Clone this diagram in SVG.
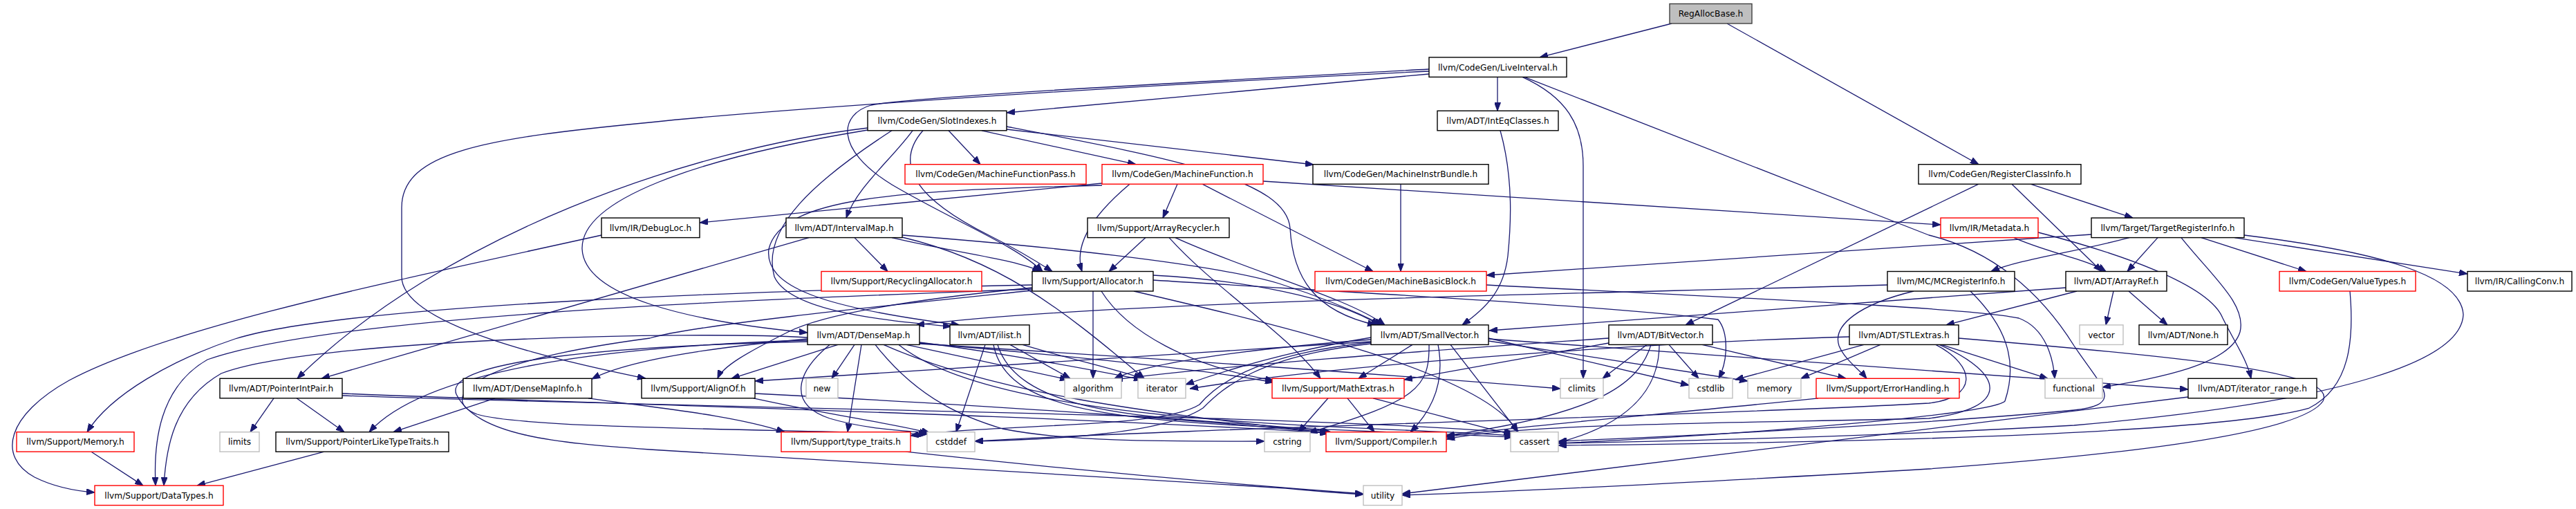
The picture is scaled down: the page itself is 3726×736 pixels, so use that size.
<svg xmlns="http://www.w3.org/2000/svg" width="3726" height="736" viewBox="0 0 3726 736">
<defs>
<marker id="arr" viewBox="0 0 12 9" refX="12" refY="4.5" markerWidth="12" markerHeight="9" markerUnits="userSpaceOnUse" orient="auto"><path d="M0,0 L12,4.5 L0,9 Z" fill="#191970" stroke="#191970" stroke-width="1"/></marker>
</defs>
<style>
.e{fill:none;stroke:#191970;stroke-width:1.3;marker-end:url(#arr)}
.n rect{fill:#ffffff;stroke:#000000;stroke-width:1.4}
.r rect{fill:#ffffff;stroke:#ff0000;stroke-width:1.4}
.g rect{fill:#ffffff;stroke:#bfbfbf;stroke-width:1.4}
.root rect{fill:#bfbfbf;stroke:#404040;stroke-width:1.4}
text{font-family:"DejaVu Sans","Liberation Sans",sans-serif;font-size:12.2px;text-anchor:middle;fill:#000000}
</style>
<rect x="0" y="0" width="3726" height="736" fill="#ffffff"/>
<g id="edges">
<path class="e" d="M2418,34 L2227,82.9"/>
<path class="e" d="M2498,34 L2862,237.7"/>
<path class="e" d="M2067,107 L1456,163"/>
<path class="e" d="M2067,100 C1700,120 1320,140 1260,152 C1215,165 1205,215 1290,267 C1380,320 1470,355 1508,392.5"/>
<path class="e" d="M2067,103 C1600,125 1100,160 940,177 C700,200 581,220 581,300 L581,400 C581,470 800,520 934,547.3"/>
<path class="e" d="M2166,111.4 L2166,160.3"/>
<path class="e" d="M2202,111.4 C2265,140 2290,180 2290,240 L2290,547.3"/>
<path class="e" d="M2205,111.4 L2790,340 C2880,362 2950,420 3000,500 C3040,560 3075,585 3000,593 C2800,612 2450,630 2254,638"/>
<path class="e" d="M1255,185 C1000,215 640,340 430,547.3"/>
<path class="e" d="M1255,188 C1000,230 840,290 842,360 C845,430 1000,465 1168,481"/>
<path class="e" d="M1320,188.8 C1290,230 1240,270 1224,315.1"/>
<path class="e" d="M1290,188.8 C1180,260 1100,330 1120,400 C1140,445 1250,462 1376,472"/>
<path class="e" d="M1335,188.8 C1290,240 1330,290 1430,340 C1470,360 1495,375 1522,392.5"/>
<path class="e" d="M1372,188.8 L1418,237.7"/>
<path class="e" d="M1420,188.8 L1643,237.7"/>
<path class="e" d="M1456,187 L1900,238"/>
<path class="e" d="M1456,183 C1700,230 1860,260 1866,330 C1870,400 1900,450 1990,469.9"/>
<path class="e" d="M2170,188.8 C2190,260 2185,330 2181,370 C2175,420 2150,445 2115,469.9"/>
<path class="e" d="M1594,265 L1012,322"/>
<path class="e" d="M1594,268 C1300,275 1130,285 1112,360 C1105,415 1190,445 1388,470"/>
<path class="e" d="M1634,266.2 C1570,320 1555,360 1565,392.5"/>
<path class="e" d="M1703,266.2 L1682,315.1"/>
<path class="e" d="M1739,266.2 L1986,392.5"/>
<path class="e" d="M1827,262 L2807,325"/>
<path class="e" d="M2026,266.2 L2026,392.5"/>
<path class="e" d="M2862,266.2 L2438,469.9"/>
<path class="e" d="M2910,266.2 L3040,392.5"/>
<path class="e" d="M2937,266.2 L3085,315.1"/>
<path class="e" d="M870,340 C600,400 250,470 100,550 C10,600 -5,660 50,690 C80,705 110,710 137,712"/>
<path class="e" d="M1170,343.6 L465,547.3"/>
<path class="e" d="M1236,343.6 L1284,392.5"/>
<path class="e" d="M1290,343.6 C1380,365 1470,375 1505,392.5"/>
<path class="e" d="M1305,340 C1500,355 1750,380 1850,410 C1920,432 1970,455 2000,469.9"/>
<path class="e" d="M1305,343 C1440,375 1530,440 1655,547.3"/>
<path class="e" d="M1657,343.6 L1604,392.5"/>
<path class="e" d="M1691,343.6 C1760,420 1860,480 1910,547.3"/>
<path class="e" d="M1700,343.6 C1800,390 1950,430 2003,469.9"/>
<path class="e" d="M2913,343.6 C2960,365 3020,375 3046,392.5"/>
<path class="e" d="M2948,336 C3060,365 3195,410 3215,460 C3235,500 3250,520 3256,547.3"/>
<path class="e" d="M3025,339 L2150,398"/>
<path class="e" d="M3080,343.6 C3000,365 2920,375 2880,392.5"/>
<path class="e" d="M3121,343.6 L3077,392.5"/>
<path class="e" d="M3155,343.6 C3200,400 3250,440 3240,480 C3225,530 3110,548 3041,560"/>
<path class="e" d="M3184,343.6 L3336,392.5"/>
<path class="e" d="M3232,343.6 L3569,396"/>
<path class="e" d="M3246,340 C3450,365 3560,400 3563,455 C3560,520 3400,580 3000,615 C2700,632 2400,638 2254,641"/>
<path class="e" d="M1668,398 C1800,405 1930,430 1995,469.9"/>
<path class="e" d="M1493,416 C1350,430 1200,450 1140,480 C1080,510 1045,530 1038,547.3"/>
<path class="e" d="M1493,418 C1200,430 500,450 300,520 C230,560 222,640 225,702.1"/>
<path class="e" d="M1493,412 C1100,420 500,440 340,490 C250,520 160,570 126,624.7"/>
<path class="e" d="M1581,421 L1581,547.3"/>
<path class="e" d="M1593,421 C1630,480 1720,530 1842,550"/>
<path class="e" d="M1640,421 C1850,470 2150,540 2195,624.7"/>
<path class="e" d="M1493,420 C1300,440 1000,470 940,489 C660,526 640,580 690,599 C760,620 1100,620 1341,628"/>
<path class="e" d="M1668,405 C1900,420 2300,440 2485,462 C2500,480 2500,520 2486,547.3"/>
<path class="e" d="M2150,412 C2500,430 2850,445 2920,460 C2960,475 2970,520 2972,547.3"/>
<path class="e" d="M2730,412 C2300,425 1600,435 1325,470"/>
<path class="e" d="M2768,421 C2690,440 2650,470 2660,500 C2668,520 2690,535 2700,547.3"/>
<path class="e" d="M2850,421 C2900,470 2920,520 2900,580 C2880,600 2500,630 2254,641"/>
<path class="e" d="M2988,416 L2154,478"/>
<path class="e" d="M3004,421 L2815,469.9"/>
<path class="e" d="M3057,421 L3046,469.9"/>
<path class="e" d="M3079,421 L3135,469.9"/>
<path class="e" d="M3399,421 C3405,490 3400,560 3340,590 C3200,630 2600,641 2254,644"/>
<path class="e" d="M1168,490 C1000,505 900,525 856,548"/>
<path class="e" d="M1212,498.4 L1058,547.3"/>
<path class="e" d="M1236,498.4 L1203,547.3"/>
<path class="e" d="M1246,498.4 L1226,624.7"/>
<path class="e" d="M1200,498.4 C1150,540 1140,585 1200,605 C1250,620 1300,622 1343,626"/>
<path class="e" d="M1266,498.4 C1330,580 1400,605 1450,620 C1550,640 1700,638 1829,638"/>
<path class="e" d="M1278,498.4 C1450,575 1700,600 1921,626"/>
<path class="e" d="M1311,498.4 L1545,549"/>
<path class="e" d="M1330,495 C1450,510 1580,535 1652,549"/>
<path class="e" d="M1330,496 C1550,515 1750,535 1842,553"/>
<path class="e" d="M1330,497 C1700,520 2050,545 2257,562"/>
<path class="e" d="M1300,498.4 C1450,620 2000,615 2188,630"/>
<path class="e" d="M1168,492 C900,500 620,530 534,624.7"/>
<path class="e" d="M1168,488 C1000,478 450,490 320,540 C250,580 240,650 237,702.1"/>
<path class="e" d="M1168,494 C900,500 640,520 660,570 C690,630 800,640 940,650 L1860,706 C1900,710 1940,713 1972,715"/>
<path class="e" d="M1425,498.4 L1383,624.7"/>
<path class="e" d="M1437,498.4 C1460,620 1700,610 2188,632"/>
<path class="e" d="M1443,498.4 C1480,620 1750,600 1925,624.7"/>
<path class="e" d="M1461,498.4 L1548,547.3"/>
<path class="e" d="M1479,498.4 C1550,520 1620,535 1652,547.3"/>
<path class="e" d="M1983,494 L1092,551"/>
<path class="e" d="M1983,488 C1850,510 1760,540 1715,556"/>
<path class="e" d="M1983,491 C1800,505 1660,525 1612,547.3"/>
<path class="e" d="M2043,498.4 L1965,547.3"/>
<path class="e" d="M2067,498.4 C2068,560 2050,580 1893,625.5"/>
<path class="e" d="M2080,498.4 C2092,560 2065,600 2040,624.7"/>
<path class="e" d="M2098,498.4 L2196,624.7"/>
<path class="e" d="M2153,489 L2443,557"/>
<path class="e" d="M2153,493 L2528,551"/>
<path class="e" d="M1983,495 C1820,512 1760,555 1735,585 C1680,620 1450,612 1317,630"/>
<path class="e" d="M1983,497 C1820,515 1770,560 1740,590 C1680,630 1500,636 1410,638"/>
<path class="e" d="M2153,490 L3165,563"/>
<path class="e" d="M2327,489 C2100,505 1800,525 1612,549"/>
<path class="e" d="M2327,496 L2031,549"/>
<path class="e" d="M2382,498.4 L2318,547.3"/>
<path class="e" d="M2388,498.4 C2370,560 2300,600 2092,630"/>
<path class="e" d="M2400,498.4 C2400,580 2330,620 2254,640"/>
<path class="e" d="M2414,498.4 L2457,547.3"/>
<path class="e" d="M2462,498.4 L2670,547.3"/>
<path class="e" d="M2696,498.4 L2510,549"/>
<path class="e" d="M2720,498.4 L2605,547.3"/>
<path class="e" d="M2808,498.4 L2962,547.3"/>
<path class="e" d="M2675,487 C2400,495 1950,525 1721,562"/>
<path class="e" d="M2800,498.4 C2860,530 2860,575 2790,583 C2500,600 1700,620 1410,638"/>
<path class="e" d="M2805,498.4 C2900,540 2910,590 2790,605 C2500,612 2200,612 2092,635"/>
<path class="e" d="M2833,489 C3200,520 3380,540 3360,580 C3320,640 2900,670 2790,678 C2500,695 2200,710 2028,716"/>
<path class="e" d="M396,575.8 L362,624.7"/>
<path class="e" d="M429,575.8 L498,624.7"/>
<path class="e" d="M495,569 C900,585 1500,600 1922,626"/>
<path class="e" d="M495,572 C1000,590 1900,600 2190,626"/>
<path class="e" d="M716,575.8 L569,624.7"/>
<path class="e" d="M851,575.8 C950,590 1060,600 1135,624.7"/>
<path class="e" d="M1092,569 C1500,590 1800,612 1921,627"/>
<path class="e" d="M1090,575.8 C1200,600 1290,612 1345,626"/>
<path class="e" d="M1921,575.8 L1878,624.7"/>
<path class="e" d="M1949,575.8 L1988,624.7"/>
<path class="e" d="M1986,575.8 C2080,600 2150,620 2187,628"/>
<path class="e" d="M2630,575.8 C2400,600 2200,615 2092,632"/>
<path class="e" d="M3165,574 L2028,714"/>
<path class="e" d="M469,653.2 L285,702.1"/>
<path class="e" d="M132,653.2 L207,702.1"/>
<path class="e" d="M1310,653.2 C1600,685 1850,705 1972,714"/>
</g>
<g id="node-RegAllocBase" class="root"><rect x="2415" y="5.5" width="119" height="28.5"/><text x="2474.5" y="24.1">RegAllocBase.h</text></g>
<g id="node-LiveInterval" class="n"><rect x="2067" y="82.9" width="199" height="28.5"/><text x="2166.5" y="101.5">llvm/CodeGen/LiveInterval.h</text></g>
<g id="node-SlotIndexes" class="n"><rect x="1255" y="160.3" width="201" height="28.5"/><text x="1355.5" y="178.9">llvm/CodeGen/SlotIndexes.h</text></g>
<g id="node-IntEqClasses" class="n"><rect x="2079" y="160.3" width="175" height="28.5"/><text x="2166.5" y="178.9">llvm/ADT/IntEqClasses.h</text></g>
<g id="node-MachineFunctionPass" class="r"><rect x="1309" y="237.7" width="262" height="28.5"/><text x="1440" y="256.3">llvm/CodeGen/MachineFunctionPass.h</text></g>
<g id="node-MachineFunction" class="r"><rect x="1594" y="237.7" width="233" height="28.5"/><text x="1710.5" y="256.3">llvm/CodeGen/MachineFunction.h</text></g>
<g id="node-MachineInstrBundle" class="n"><rect x="1899" y="237.7" width="254" height="28.5"/><text x="2026" y="256.3">llvm/CodeGen/MachineInstrBundle.h</text></g>
<g id="node-RegisterClassInfo" class="n"><rect x="2775" y="237.7" width="235" height="28.5"/><text x="2892.5" y="256.3">llvm/CodeGen/RegisterClassInfo.h</text></g>
<g id="node-DebugLoc" class="n"><rect x="870" y="315.1" width="142" height="28.5"/><text x="941" y="333.7">llvm/IR/DebugLoc.h</text></g>
<g id="node-IntervalMap" class="n"><rect x="1137" y="315.1" width="168" height="28.5"/><text x="1221" y="333.7">llvm/ADT/IntervalMap.h</text></g>
<g id="node-ArrayRecycler" class="n"><rect x="1573" y="315.1" width="205" height="28.5"/><text x="1675.5" y="333.7">llvm/Support/ArrayRecycler.h</text></g>
<g id="node-Metadata" class="r"><rect x="2807" y="315.1" width="141" height="28.5"/><text x="2877.5" y="333.7">llvm/IR/Metadata.h</text></g>
<g id="node-TargetRegisterInfo" class="n"><rect x="3025" y="315.1" width="221" height="28.5"/><text x="3135.5" y="333.7">llvm/Target/TargetRegisterInfo.h</text></g>
<g id="node-RecyclingAllocator" class="r"><rect x="1188" y="392.5" width="232" height="28.5"/><text x="1304" y="411.1">llvm/Support/RecyclingAllocator.h</text></g>
<g id="node-Allocator" class="n"><rect x="1493" y="392.5" width="175" height="28.5"/><text x="1580.5" y="411.1">llvm/Support/Allocator.h</text></g>
<g id="node-MachineBasicBlock" class="r"><rect x="1902" y="392.5" width="248" height="28.5"/><text x="2026" y="411.1">llvm/CodeGen/MachineBasicBlock.h</text></g>
<g id="node-MCRegisterInfo" class="n"><rect x="2730" y="392.5" width="184" height="28.5"/><text x="2822" y="411.1">llvm/MC/MCRegisterInfo.h</text></g>
<g id="node-ArrayRef" class="n"><rect x="2988" y="392.5" width="146" height="28.5"/><text x="3061" y="411.1">llvm/ADT/ArrayRef.h</text></g>
<g id="node-ValueTypes" class="r"><rect x="3297" y="392.5" width="197" height="28.5"/><text x="3395.5" y="411.1">llvm/CodeGen/ValueTypes.h</text></g>
<g id="node-CallingConv" class="n"><rect x="3569" y="392.5" width="151" height="28.5"/><text x="3644.5" y="411.1">llvm/IR/CallingConv.h</text></g>
<g id="node-DenseMap" class="n"><rect x="1168" y="469.9" width="162" height="28.5"/><text x="1249" y="488.5">llvm/ADT/DenseMap.h</text></g>
<g id="node-ilist" class="n"><rect x="1374" y="469.9" width="115" height="28.5"/><text x="1431.5" y="488.5">llvm/ADT/ilist.h</text></g>
<g id="node-SmallVector" class="n"><rect x="1983" y="469.9" width="170" height="28.5"/><text x="2068" y="488.5">llvm/ADT/SmallVector.h</text></g>
<g id="node-BitVector" class="n"><rect x="2327" y="469.9" width="150" height="28.5"/><text x="2402" y="488.5">llvm/ADT/BitVector.h</text></g>
<g id="node-STLExtras" class="n"><rect x="2675" y="469.9" width="158" height="28.5"/><text x="2754" y="488.5">llvm/ADT/STLExtras.h</text></g>
<g id="node-vector" class="g"><rect x="3008" y="469.9" width="63" height="28.5"/><text x="3039.5" y="488.5">vector</text></g>
<g id="node-None" class="n"><rect x="3094" y="469.9" width="128" height="28.5"/><text x="3158" y="488.5">llvm/ADT/None.h</text></g>
<g id="node-PointerIntPair" class="n"><rect x="318" y="547.3" width="177" height="28.5"/><text x="406.5" y="565.9">llvm/ADT/PointerIntPair.h</text></g>
<g id="node-DenseMapInfo" class="n"><rect x="670" y="547.3" width="186" height="28.5"/><text x="763" y="565.9">llvm/ADT/DenseMapInfo.h</text></g>
<g id="node-AlignOf" class="n"><rect x="928" y="547.3" width="164" height="28.5"/><text x="1010" y="565.9">llvm/Support/AlignOf.h</text></g>
<g id="node-new" class="g"><rect x="1166" y="547.3" width="46" height="28.5"/><text x="1189" y="565.9">new</text></g>
<g id="node-algorithm" class="g"><rect x="1540" y="547.3" width="82" height="28.5"/><text x="1581" y="565.9">algorithm</text></g>
<g id="node-iterator" class="g"><rect x="1646" y="547.3" width="69" height="28.5"/><text x="1680.5" y="565.9">iterator</text></g>
<g id="node-MathExtras" class="r"><rect x="1840" y="547.3" width="191" height="28.5"/><text x="1935.5" y="565.9">llvm/Support/MathExtras.h</text></g>
<g id="node-climits" class="g"><rect x="2257" y="547.3" width="62" height="28.5"/><text x="2288" y="565.9">climits</text></g>
<g id="node-cstdlib" class="g"><rect x="2443" y="547.3" width="63" height="28.5"/><text x="2474.5" y="565.9">cstdlib</text></g>
<g id="node-memory" class="g"><rect x="2528" y="547.3" width="77" height="28.5"/><text x="2566.5" y="565.9">memory</text></g>
<g id="node-ErrorHandling" class="r"><rect x="2627" y="547.3" width="207" height="28.5"/><text x="2730.5" y="565.9">llvm/Support/ErrorHandling.h</text></g>
<g id="node-functional" class="g"><rect x="2958" y="547.3" width="83" height="28.5"/><text x="2999.5" y="565.9">functional</text></g>
<g id="node-iterator_range" class="n"><rect x="3165" y="547.3" width="186" height="28.5"/><text x="3258" y="565.9">llvm/ADT/iterator_range.h</text></g>
<g id="node-Memory" class="r"><rect x="24" y="624.7" width="170" height="28.5"/><text x="109" y="643.3">llvm/Support/Memory.h</text></g>
<g id="node-limits" class="g"><rect x="318" y="624.7" width="57" height="28.5"/><text x="346.5" y="643.3">limits</text></g>
<g id="node-PointerLikeTypeTraits" class="n"><rect x="399" y="624.7" width="250" height="28.5"/><text x="524" y="643.3">llvm/Support/PointerLikeTypeTraits.h</text></g>
<g id="node-type_traits" class="r"><rect x="1130" y="624.7" width="187" height="28.5"/><text x="1223.5" y="643.3">llvm/Support/type_traits.h</text></g>
<g id="node-cstddef" class="g"><rect x="1341" y="624.7" width="69" height="28.5"/><text x="1375.5" y="643.3">cstddef</text></g>
<g id="node-cstring" class="g"><rect x="1829" y="624.7" width="66" height="28.5"/><text x="1862" y="643.3">cstring</text></g>
<g id="node-Compiler" class="r"><rect x="1918" y="624.7" width="174" height="28.5"/><text x="2005" y="643.3">llvm/Support/Compiler.h</text></g>
<g id="node-cassert" class="g"><rect x="2185" y="624.7" width="69" height="28.5"/><text x="2219.5" y="643.3">cassert</text></g>
<g id="node-DataTypes" class="r"><rect x="137" y="702.1" width="186" height="28.5"/><text x="230" y="720.7">llvm/Support/DataTypes.h</text></g>
<g id="node-utility" class="g"><rect x="1972" y="702.1" width="56" height="28.5"/><text x="2000" y="720.7">utility</text></g>
</svg>
